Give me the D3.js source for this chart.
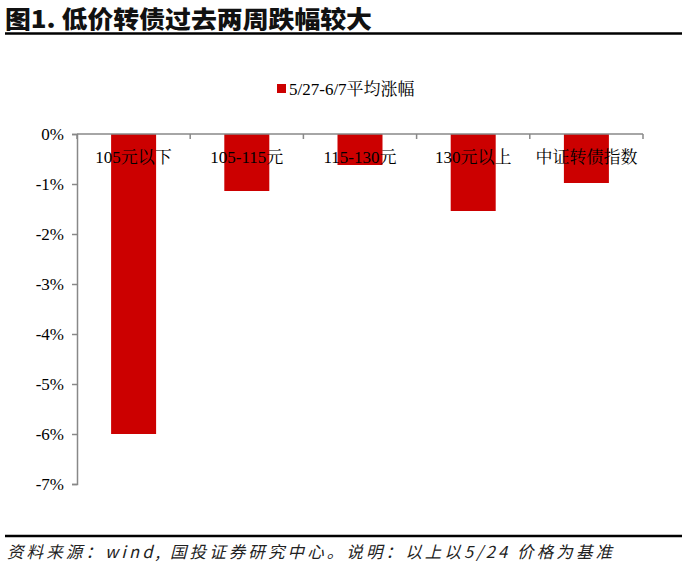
<!DOCTYPE html>
<html><head><meta charset="utf-8">
<script src="https://cdn.jsdelivr.net/npm/d3@7"></script>
<style>body{margin:0;background:#fff}svg{display:block}</style>
</head><body>
<svg id="c" width="687" height="569"></svg>
<script>
const categories = ["105元以下","105-115元","115-130元","130元以上","中证转债指数"];
const values = [-6.00, -1.14, -0.62, -1.54, -0.98];
const yTicks = [0,-1,-2,-3,-4,-5,-6,-7];
const seriesName = "5/27-6/7平均涨幅";
const titleText = "图1. 低价转债过去两周跌幅较大";
const footText = "资料来源：wind, 国投证券研究中心。说明：以上以5/24 价格为基准";

const svg = d3.select("#c");
const serif = "'Liberation Serif','Noto Serif CJK SC','Noto Sans CJK SC',serif";
const red = "#CC0000";

// title
svg.append("text").attr("x",5).attr("y",28).text(titleText)
  .attr("font-family","'Noto Sans CJK SC',sans-serif").attr("font-weight",900)
  .attr("font-size",24).attr("fill","#111")
  .attr("textLength",367).attr("lengthAdjust","spacingAndGlyphs");
svg.append("line").attr("x1",5).attr("x2",682).attr("y1",33.5).attr("y2",33.5)
  .attr("stroke","#000").attr("stroke-width",2.5);

// footer
svg.append("line").attr("x1",5).attr("x2",682).attr("y1",536).attr("y2",536)
  .attr("stroke","#000").attr("stroke-width",2.5);
svg.append("text").attr("x",7).attr("y",558).text(footText)
  .attr("font-family","'Noto Sans CJK SC',sans-serif").attr("font-style","italic")
  .attr("font-size",16.5).attr("fill","#222")
  .attr("textLength",605).attr("lengthAdjust","spacing");

const x0 = 77, x1 = 643;
const xb = d3.scaleBand().domain(categories).range([x0,x1]);
const y = d3.scaleLinear().domain([0,-7]).range([134,484]);

// bars
svg.append("g").selectAll("rect").data(values).join("rect")
  .attr("x",(d,i)=>xb(categories[i]) + xb.bandwidth()/2 - 22.5)
  .attr("width",45)
  .attr("y",y(0)).attr("height",d=>y(d)-y(0)).attr("fill",red);

// y axis
const yAxis = d3.axisLeft(y).tickValues(yTicks).tickSize(5).tickPadding(8)
  .tickFormat(d=>d+"%");
const gy = svg.append("g").attr("transform",`translate(${x0},0)`).call(yAxis);
gy.select(".domain").attr("stroke","#888").attr("stroke-width",1.5);
gy.selectAll(".tick line").attr("stroke","#888").attr("stroke-width",1.5);
gy.selectAll(".tick text").attr("font-family",serif).attr("font-size",17).attr("fill","#000");

// x axis line at zero with boundary ticks
svg.append("line").attr("x1",x0).attr("x2",x1).attr("y1",y(0)).attr("y2",y(0))
  .attr("stroke","#888").attr("stroke-width",1.5);
const bounds = categories.map(c=>xb(c)).concat([x1]);
svg.append("g").selectAll("line").data(bounds).join("line")
  .attr("x1",d=>d).attr("x2",d=>d).attr("y1",y(0)).attr("y2",y(0)+5)
  .attr("stroke","#888").attr("stroke-width",1.5);

// category labels
svg.append("g").selectAll("text").data(categories).join("text")
  .attr("x",d=>xb(d)+xb.bandwidth()/2).attr("y",163)
  .attr("text-anchor","middle").text(d=>d)
  .attr("font-family",serif).attr("font-size",17).attr("fill","#000");

// legend
svg.append("rect").attr("x",277).attr("y",84).attr("width",9).attr("height",9).attr("fill",red);
svg.append("text").attr("x",289).attr("y",95).text(seriesName)
  .attr("font-family",serif).attr("font-size",17).attr("fill","#000");
</script>
</body></html>
